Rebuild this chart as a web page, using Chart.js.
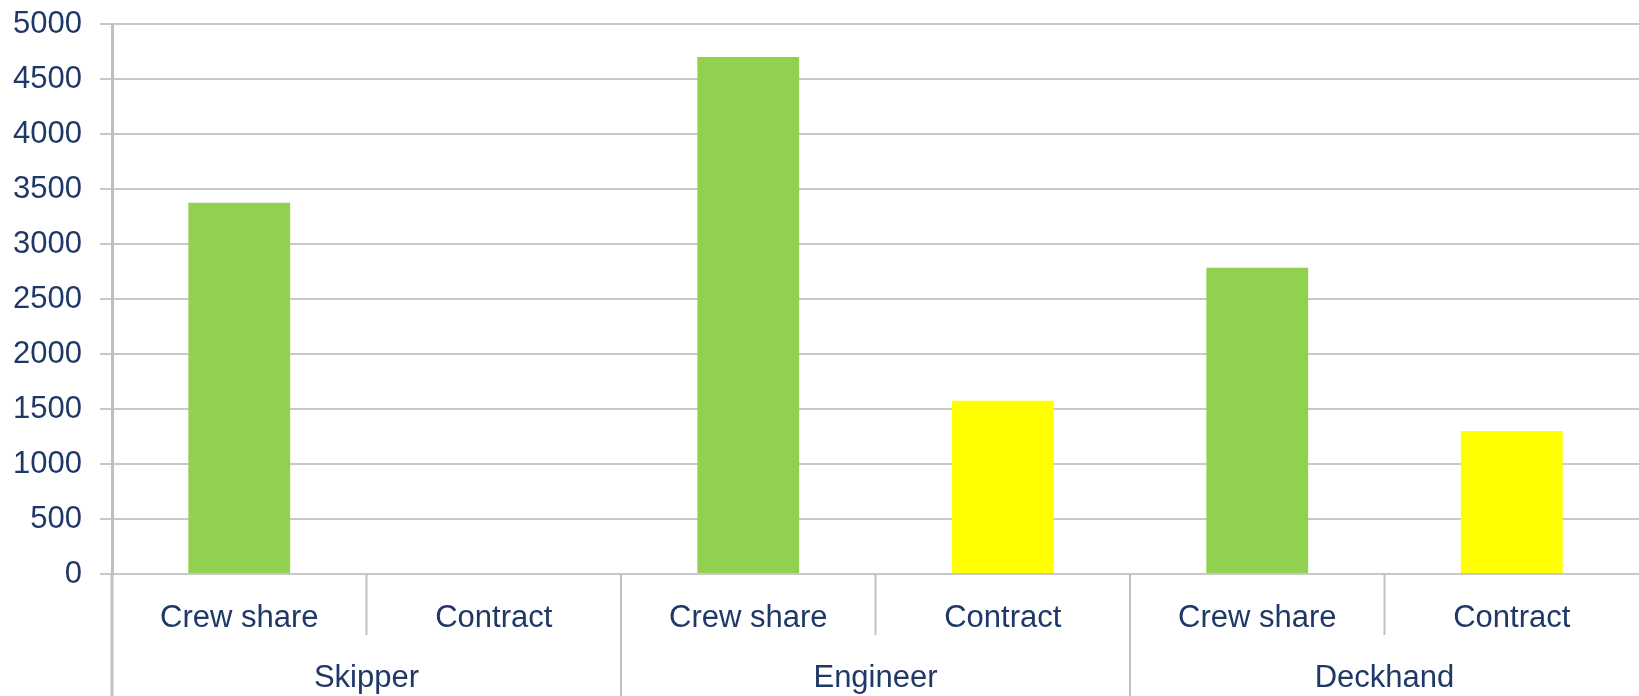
<!DOCTYPE html>
<html>
<head>
<meta charset="utf-8">
<script src="https://cdn.jsdelivr.net/npm/chart.js@4/dist/chart.umd.min.js"></script>
<style>
  html, body { margin:0; padding:0; background:#fff; }
  #wrap { width:1639px; height:696px; position:relative; }
</style>
</head>
<body>
<div id="wrap"><canvas id="chart"></canvas></div>
<script>
// ── Data ────────────────────────────────────────────────────────────────────
const groups    = ['Skipper', 'Engineer', 'Deckhand'];
const payTypes  = ['Crew share', 'Contract'];
const values    = [3375, null, 4700, 1575, 2785, 1300];
const yTicksMax = 5000;
const yStep     = 500;

const GREEN = '#92d050', YELLOW = '#ffff00';
const TEXT  = '#1f3868', GRID = '#c8c8c8', AXIS = '#bfbfbf';
const FONT  = "'Liberation Sans', Arial, sans-serif";

const labels    = groups.flatMap(() => payTypes);
const barColors = labels.map(l => l === 'Crew share' ? GREEN : YELLOW);

// ── Second level of the category axis (group names + dividers) ──────────────
const groupAxis = {
  id: 'groupAxis',
  afterDraw(chart) {
    const { ctx, chartArea: a, scales: { x } } = chart;
    const H = chart.height;
    const half = (x.getPixelForValue(1) - x.getPixelForValue(0)) / 2;
    const line = (x0, y0, x1, y1) => { ctx.beginPath(); ctx.moveTo(x0, y0); ctx.lineTo(x1, y1); ctx.stroke(); };
    ctx.save();
    ctx.strokeStyle = AXIS;
    ctx.lineWidth = 2;
    ctx.fillStyle = TEXT;
    ctx.font = '31px ' + FONT;
    ctx.textAlign = 'center';
    ctx.textBaseline = 'middle';
    groups.forEach((g, i) => {
      const c0 = x.getPixelForValue(i * 2), c1 = x.getPixelForValue(i * 2 + 1);
      const mid = (c0 + c1) / 2;
      line(mid, a.bottom, mid, a.bottom + 61);          // divider between pay types
      if (i > 0) line(c0 - half, a.bottom, c0 - half, H); // divider between groups
      ctx.fillText(g, mid, 678);
    });
    // left axis line continues down through the label rows
    ctx.lineWidth = 3;
    line(a.left, a.bottom, a.left, H);
    ctx.restore();
  }
};

new Chart(document.getElementById('chart').getContext('2d'), {
  type: 'bar',
  data: {
    labels,
    datasets: [{
      data: values,
      backgroundColor: barColors,
      barPercentage: 0.4,
      categoryPercentage: 1.0,
      borderWidth: 0
    }]
  },
  options: {
    responsive: true, maintainAspectRatio: false, animation: false,
    layout: { padding: { top: 24, right: 0, left: 0, bottom: 0 } },
    plugins: { legend: { display: false }, tooltip: { enabled: false } },
    scales: {
      x: {
        grid: { display: false },
        border: { display: false },
        ticks: { color: TEXT, font: { family: FONT, size: 31 }, padding: 18, maxRotation: 0, autoSkip: false },
        afterFit(s) { s.height = 122; s.paddingLeft = 0; s.paddingRight = 0; }
      },
      y: {
        min: 0, max: yTicksMax,
        ticks: { stepSize: yStep, color: TEXT, font: { family: FONT, size: 31 }, padding: 18,
                 callback: v => String(v) },
        grid: { color: GRID, lineWidth: 2, tickLength: 12 },
        border: { color: AXIS, width: 3 },
        afterFit(s) { s.width = 112; s.paddingTop = 0; s.paddingBottom = 0; }
      }
    }
  },
  plugins: [groupAxis]
});
</script>
</body>
</html>
